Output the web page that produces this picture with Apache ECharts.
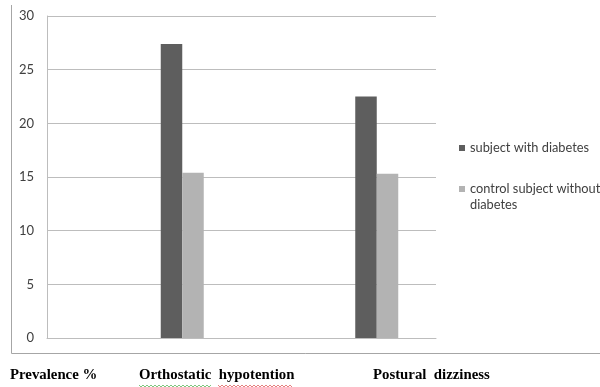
<!DOCTYPE html>
<html>
<head>
<meta charset="utf-8">
<script src="https://cdn.jsdelivr.net/npm/echarts@6/dist/echarts.min.js"></script>
<style>
  html, body { margin: 0; padding: 0; background: #ffffff; }
  #chart { width: 600px; height: 387px; }
</style>
</head>
<body>
<div id="chart"></div>
<script>
// Prevalence (%) of orthostatic hypotension and postural dizziness
const categories = ['Orthostatic hypotention', 'Postural dizziness'];
const axisTitle = 'Prevalence %';
const seriesNames = ['subject with diabetes', 'control subject without diabetes'];
const withDiabetes = [27.4, 22.5];
const withoutDiabetes = [15.4, 15.3];
const yTicks = [0, 5, 10, 15, 20, 25, 30];

const GRID_TOP = 16, GRID_H = 322;
const uiFont = 'Lato, "Open Sans", sans-serif';
const serifFont = '"Liberation Serif", "DejaVu Serif", serif';

// wavy underline (spell-check style) under a word
function wave(x0, x1, y) {
  const pts = [];
  let up = true;
  for (let x = x0; x <= x1; x += 2) {
    pts.push([x, up ? y : y + 2]);
    up = !up;
  }
  return pts;
}

const chart = echarts.init(document.getElementById('chart'), null, { renderer: 'canvas' });

chart.setOption({
  animation: false,
  backgroundColor: '#ffffff',
  grid: [
    // frame with value scale and gridlines
    { left: 47, top: GRID_TOP, width: 389, height: GRID_H },
    // bar area
    { left: 85, top: GRID_TOP, width: 389, height: GRID_H }
  ],
  xAxis: [
    {
      gridIndex: 0, type: 'category', data: [''],
      axisLine: { show: true, lineStyle: { color: '#bdbdbd', width: 1 } },
      axisTick: { show: false }, axisLabel: { show: false }, splitLine: { show: false }
    },
    {
      gridIndex: 1, type: 'category', data: categories, show: false
    }
  ],
  yAxis: [
    {
      gridIndex: 0, type: 'value',
      min: yTicks[0], max: yTicks[yTicks.length - 1], interval: yTicks[1] - yTicks[0],
      axisLine: { show: true, lineStyle: { color: '#bdbdbd', width: 1 } },
      axisTick: { show: false },
      axisLabel: { color: '#404040', fontSize: 13, fontFamily: uiFont, margin: 13 },
      splitLine: { show: true, lineStyle: { color: '#bdbdbd', width: 1 } }
    },
    {
      gridIndex: 1, type: 'value', show: false,
      min: yTicks[0], max: yTicks[yTicks.length - 1], interval: yTicks[1] - yTicks[0],
      splitLine: { show: false }
    }
  ],
  legend: [
    {
      data: [{ name: seriesNames[0] }],
      orient: 'vertical', left: 459, top: 140, padding: 0,
      icon: 'rect', itemWidth: 6, itemHeight: 6,
      textStyle: { color: '#404040', fontSize: 12.8, fontFamily: uiFont, lineHeight: 16 }
    },
    {
      data: [{ name: seriesNames[1] }],
      orient: 'vertical', left: 459, top: 165, padding: 0,
      icon: 'rect', itemWidth: 6, itemHeight: 6,
      // leading empty line keeps the marker level with the first text line
      formatter: name => ' \n' + name.replace(' without ', ' without\n'),
      textStyle: { color: '#404040', fontSize: 12.8, fontFamily: uiFont, lineHeight: 16 }
    }
  ],
  series: [
    {
      name: seriesNames[0], type: 'bar', xAxisIndex: 1, yAxisIndex: 1,
      data: withDiabetes, barWidth: 21.5, barGap: '0%',
      itemStyle: { color: '#5e5e5e' }
    },
    {
      name: seriesNames[1], type: 'bar', xAxisIndex: 1, yAxisIndex: 1,
      data: withoutDiabetes, barWidth: 21.5, barGap: '0%',
      itemStyle: { color: '#b3b3b3' }
    }
  ],
  graphic: [
    // outer chart frame (left and bottom edges)
    { type: 'polyline', silent: true,
      shape: { points: [[11.5, 5], [11.5, 353.5], [600, 353.5]] },
      style: { stroke: '#a6a6a6', lineWidth: 1, fill: null } },
    // labels below the frame
    { type: 'text', left: 10, top: 368,
      style: { text: axisTitle, font: 'bold 14.8px ' + serifFont, fill: '#000000' } },
    { type: 'text', left: 139, top: 368,
      style: { text: categories[0].replace(' ', '  '), font: 'bold 14.8px ' + serifFont, fill: '#000000' } },
    { type: 'text', left: 373, top: 368,
      style: { text: categories[1].replace(' ', '  '), font: 'bold 14.8px ' + serifFont, fill: '#000000' } },
    { type: 'polyline', silent: true, shape: { points: wave(139, 212, 385) },
      style: { stroke: '#5cb85c', lineWidth: 0.8, fill: null } },
    { type: 'polyline', silent: true, shape: { points: wave(218, 293, 385) },
      style: { stroke: '#e06060', lineWidth: 0.8, fill: null } }
  ]
});
</script>
</body>
</html>
